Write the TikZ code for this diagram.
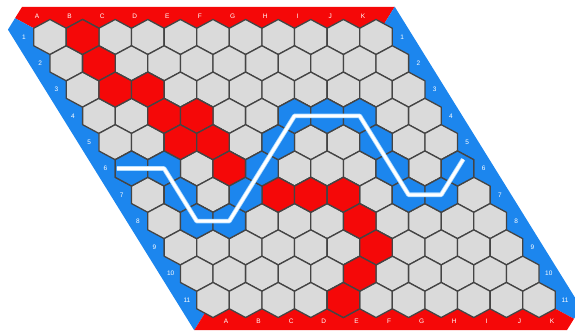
\documentclass[tikz,border=0pt]{standalone}
\usepackage{fontspec}
\setsansfont{Liberation Sans}
\definecolor{hexred}{RGB}{245,8,8}
\definecolor{hexblue}{RGB}{28,134,238}
\definecolor{cellgray}{RGB}{218,218,218}
\definecolor{cellline}{RGB}{68,68,68}
\definecolor{glow}{RGB}{175,220,255}
\begin{document}
\begin{tikzpicture}[x={(32.6pt,0pt)},y={(16.3pt,-26.3pt)},
    cell/.style={fill=cellgray,draw=cellline,line width=1.3pt,line join=round},
    lbl/.style={text=white,font=\sffamily\fontsize{6.5}{7}\selectfont,inner sep=0pt}]
  \useasboundingbox (-50pt,37pt) rectangle (525pt,-299pt);
  \coordinate (mid) at (5,5);
  \fill[hexred] (mid) -- (-0.715,-0.715) -- (-0.28,-1.15) -- (11.15,-1.15) -- cycle; % top
  \fill[hexblue] (mid) -- (-0.715,-0.715) -- (-1.15,-0.28) -- (-1.15,11.15) -- cycle; % left
  \fill[hexblue] (mid) -- (11.15,-1.15) -- (11.15,10.28) -- (10.715,10.715) -- cycle; % right
  \fill[hexred] (mid) -- (10.715,10.715) -- (10.28,11.15) -- (-1.15,11.15) -- cycle; % bottom
  \foreach \r in {0,...,10}
    \foreach \c in {0,...,10}
      \draw[cell] (\c,\r) +(1/3,-2/3) -- +(2/3,-1/3) -- +(1/3,1/3) -- +(-1/3,2/3) -- +(-2/3,1/3) -- +(-1/3,-1/3) -- cycle;
  \foreach \c/\r in {1/0,1/1,1/2,2/2,2/3,3/3,2/4,3/4,3/5,4/6,5/6,6/6,6/7,6/8,5/9,4/10}
    \draw[cell,fill=hexred] (\c,\r) +(1/3,-2/3) -- +(2/3,-1/3) -- +(1/3,1/3) -- +(-1/3,2/3) -- +(-2/3,1/3) -- +(-1/3,-1/3) -- cycle;
  \foreach \c/\r in {0/5,1/5,1/6,1/7,2/7,3/6,4/5,5/4,6/3,7/3,8/3,8/4,8/5,8/6,9/6,10/5}
    \draw[cell,fill=hexblue] (\c,\r) +(1/3,-2/3) -- +(2/3,-1/3) -- +(1/3,1/3) -- +(-1/3,2/3) -- +(-2/3,1/3) -- +(-1/3,-1/3) -- cycle;
  % winning path
  \draw[glow,line width=4.6pt,line join=round] (-0.45,5) -- (1,5) -- (1,7) -- (2,7) -- (6,3) -- (8,3) -- (8,6) -- (9,6) -- (10.35,4.65);
  \draw[white,line width=3pt,line join=round] (-0.45,5) -- (1,5) -- (1,7) -- (2,7) -- (6,3) -- (8,3) -- (8,6) -- (9,6) -- (10.35,4.65);
  \foreach \l [count=\i from 0] in {A,...,K} {
    \node[lbl] (top\l) at (\i,-0.8) {\l};
    \node[lbl] (bot\l) at (\i,10.8) {\l};
  }
  \foreach \n [count=\i from 0] in {1,...,11} {
    \node[lbl] (left\n) at (-0.8,\i) {\n};
    \node[lbl] (right\n) at (10.8,\i) {\n};
  }
\end{tikzpicture}
\end{document}
